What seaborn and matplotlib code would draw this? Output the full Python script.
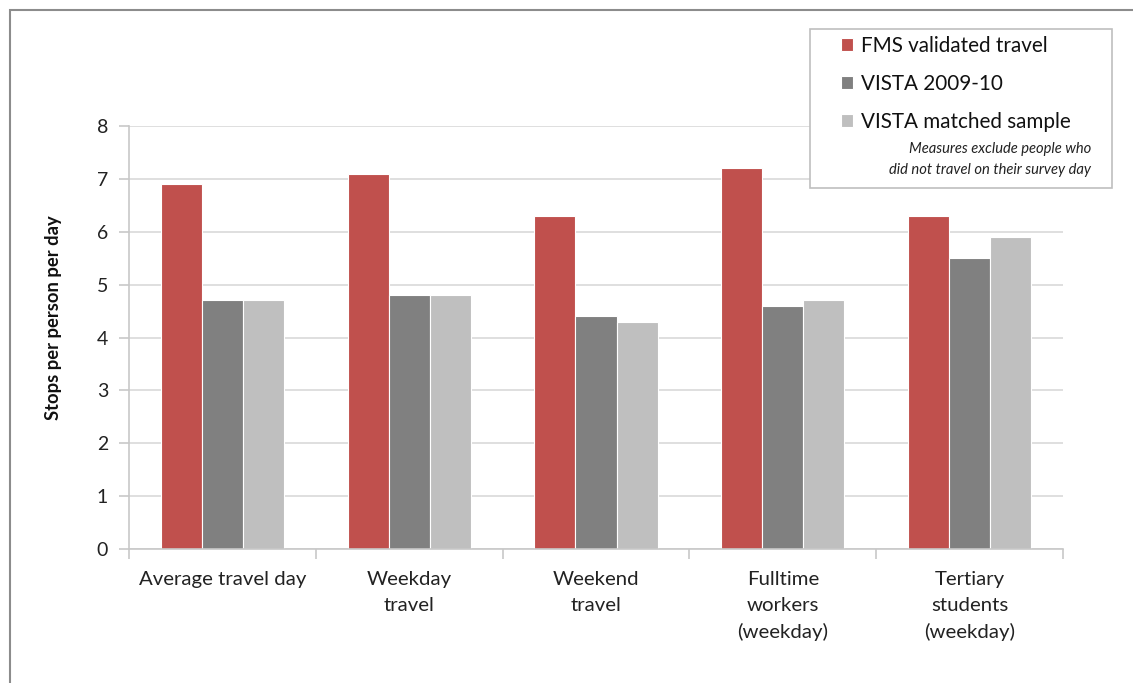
import matplotlib
matplotlib.use("Agg")
import matplotlib.pyplot as plt
from matplotlib.patches import Rectangle
import seaborn as sns
import pandas as pd

# Stops per person per day, by travel group and data source
categories = ["Average travel day", "Weekday\ntravel", "Weekend\ntravel",
              "Fulltime\nworkers\n(weekday)", "Tertiary\nstudents\n(weekday)"]
series_names = ["FMS validated travel", "VISTA 2009-10", "VISTA matched sample"]
fms_validated = [6.9, 7.1, 6.3, 7.2, 6.3]
vista_2009_10 = [4.7, 4.8, 4.4, 4.6, 5.5]
vista_matched = [4.7, 4.8, 4.3, 4.7, 5.9]
y_ticks = [0, 1, 2, 3, 4, 5, 6, 7, 8]
note_text = "Measures exclude people who\ndid not travel on their survey day"

colors = ["#C0504D", "#808080", "#BFBFBF"]

rows = []
for name, vals in zip(series_names, [fms_validated, vista_2009_10, vista_matched]):
    for cat, v in zip(categories, vals):
        rows.append({"category": cat, "series": name, "value": v})
df = pd.DataFrame(rows)

sns.set_theme(style="white")
plt.rcParams["font.family"] = ["Lato", "DejaVu Sans"]

fig = plt.figure(figsize=(11.33, 6.83), dpi=100)
ax = fig.add_axes([0.1139, 0.1962, 0.8243, 0.6193])

sns.barplot(data=df, x="category", y="value", hue="series", order=categories,
            hue_order=series_names, palette=colors, width=0.66, gap=0,
            edgecolor="white", linewidth=0.8, saturation=1, ax=ax, legend=True)

ax.set_xlim(-0.5, len(categories) - 0.5)
ax.set_ylim(0, 8)
ax.set_yticks(y_ticks)
ax.set_yticklabels([str(t) for t in y_ticks], fontsize=14, color="#222222")
ax.yaxis.grid(True, color="#D9D9D9", linewidth=1.2)
ax.set_axisbelow(True)

# category labels centred under groups; tick marks on group boundaries
ax.set_xticks(range(len(categories)))
ax.set_xticklabels(categories, fontsize=14.7, color="#222222", linespacing=1.62,
                   va="top")
ax.tick_params(axis="x", which="major", length=0, pad=16)
ax.set_xticks([i - 0.5 for i in range(len(categories) + 1)], minor=True)
ax.tick_params(axis="x", which="minor", length=7, width=1.2, color="#C8C8C8",
               direction="out", bottom=True)
ax.tick_params(axis="y", which="major", length=7, width=1.2, color="#C8C8C8",
               direction="out", left=True, pad=8)

for side in ["top", "right"]:
    ax.spines[side].set_visible(False)
for side in ["left", "bottom"]:
    ax.spines[side].set_color("#C8C8C8")
    ax.spines[side].set_linewidth(1.2)

ax.set_xlabel("")
ax.set_ylabel("Stops per person per day", fontsize=13.2, fontweight="bold",
              color="#111111")
ax.yaxis.set_label_coords(-0.072, 0.546)

# legend box with explanatory note
handles, labels = ax.get_legend_handles_labels()
ax.get_legend().remove()
W, H = 1133, 683
box = Rectangle((810 / W, 1 - 188 / H), (1112 - 810) / W, (188 - 29) / H,
                transform=fig.transFigure, facecolor="white",
                edgecolor="#BFBFBF", linewidth=1.2, zorder=5)
fig.patches.append(box)
leg = fig.legend(handles, labels, loc="upper left",
                 bbox_to_anchor=(841 / W, 1 - 36 / H), frameon=False,
                 fontsize=14.9, handlelength=0.6, handleheight=0.6,
                 handletextpad=0.35, labelspacing=0.86, borderaxespad=0,
                 borderpad=0)
leg.set_zorder(6)
for t in leg.get_texts():
    t.set_color("#111111")
fig.text(1091 / W, 1 - 142 / H, note_text, ha="right", va="top",
         fontsize=10.6, style="italic", color="#222222", linespacing=1.65,
         zorder=7)

# outer chart frame
frame = Rectangle((10 / W, -0.05), 1.2, 1 - 10 / H + 0.05,
                  transform=fig.transFigure, facecolor="none",
                  edgecolor="#8C8C8C", linewidth=1.5, zorder=0)
fig.patches.append(frame)

fig.savefig("out.png", dpi=100, facecolor="white")
